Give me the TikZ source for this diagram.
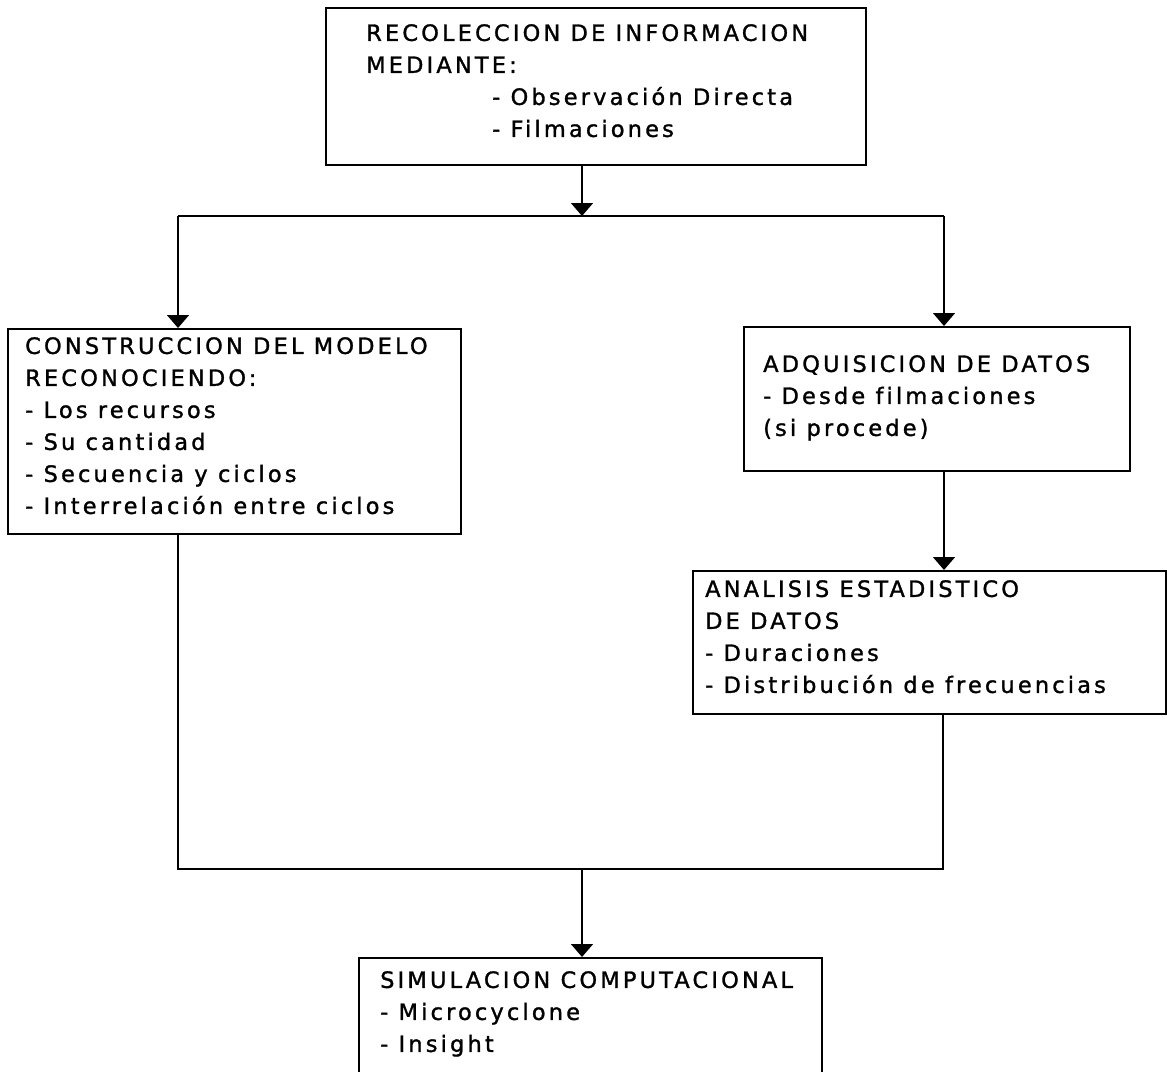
\documentclass[tikz,border=0pt]{standalone}
\usepackage{fontspec}
\setmainfont{DejaVu Sans}[LetterSpace=14, Ligatures=NoCommon, FakeBold=1.3]
\usetikzlibrary{arrows.meta}
\begin{document}
\begin{tikzpicture}[x=1pt,y=-1pt,
  box/.style={draw, line width=1.7pt, inner sep=0pt, anchor=north west},
  txt/.style={anchor=north west, align=left, inner sep=0pt, font=\fontsize{22.5pt}{32pt}\selectfont},
  conn/.style={line width=1.6pt},
  arr/.style={conn, -{Triangle[width=22pt,length=13pt]}}]
\useasboundingbox (0,0) rectangle (1167,1071);
\clip (0,0) rectangle (1167,1071);

% boxes
\node[box, minimum width=540pt, minimum height=157pt] (top) at (325,7) {};
\node[box, minimum width=453pt, minimum height=205pt] (lbox) at (7,328) {};
\node[box, minimum width=386pt, minimum height=144pt] (adq) at (743,326) {};
\node[box, minimum width=473pt, minimum height=143pt] (ana) at (692,570) {};
\node[box, minimum width=463pt, minimum height=150pt] (sim) at (358,957) {};

% texts
\node[txt] (toptext) at (366,24) {RECOLECCION DE INFORMACION\\ MEDIANTE:\\ \hspace*{126pt}- Observación Directa\\ \hspace*{126pt}- Filmaciones};
\node[txt] (ltext) at (25,337) {CONSTRUCCION DEL MODELO\\ RECONOCIENDO:\\ - Los recursos\\ - Su cantidad\\ - Secuencia y ciclos\\ - Interrelación entre ciclos};
\node[txt] (adqtext) at (763,355) {ADQUISICION DE DATOS\\ - Desde filmaciones\\ (si procede)};
\node[txt] (anatext) at (705,580) {ANALISIS ESTADISTICO\\ DE DATOS\\ - Duraciones\\ - Distribución de frecuencias};
\node[txt] (simtext) at (380,971) {SIMULACION COMPUTACIONAL\\ - Microcyclone\\ - Insight};

% connectors
\coordinate (sl) at (178,216);
\coordinate (sm) at (582,216);
\coordinate (sr) at (944,216);
\coordinate (jl) at (178,869);
\coordinate (jm) at (582,869);
\coordinate (jr) at (943,869);

\draw[arr] (top.south -| sm) -- (sm);
\draw[conn] (sl) -- (sr);
\draw[arr] (sl) -- (sl |- lbox.north);
\draw[arr] (sr) -- (sr |- adq.north);
\draw[arr] (adq.south -| sr) -- (ana.north -| sr);
\draw[conn] (lbox.south -| jl) -- (jl) -- (jr) -- (ana.south -| jr);
\draw[arr] (jm) -- (jm |- sim.north);
\end{tikzpicture}
\end{document}
